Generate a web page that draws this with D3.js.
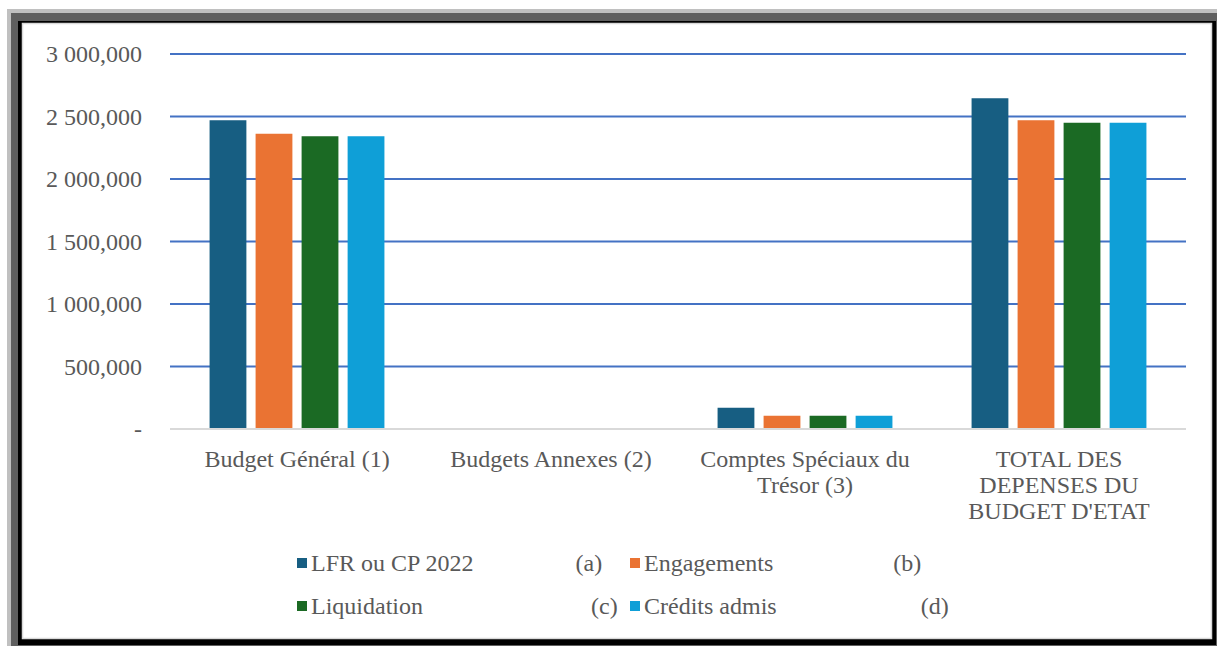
<!DOCTYPE html>
<html>
<head>
<meta charset="utf-8">
<script src="https://cdn.jsdelivr.net/npm/d3@7"></script>
<style>
  html, body { margin: 0; padding: 0; background: #fff; }
  svg { display: block; }
  svg text { font-family: "Times New Roman", "Liberation Serif", Tinos, serif; fill: #595959; }
  .legend text { white-space: pre; }
</style>
</head>
<body>
<div id="chart"></div>
<script>
// Dépenses du budget de l'Etat 2022 — grouped bars, 4 series per category.

const categories = [
  ["Budget Général (1)"],
  ["Budgets Annexes (2)"],
  ["Comptes Spéciaux du", "Trésor (3)"],
  ["TOTAL DES", "DEPENSES DU", "BUDGET D'ETAT"],
];

const seriesNames = ["LFR ou CP 2022", "Engagements", "Liquidation", "Crédits admis"];
// Excel legend labels carried padding spaces before the column letter.
const legendLabels = [
  "LFR ou CP 2022" + " ".repeat(17) + "(a)",
  "Engagements" + " ".repeat(20) + "(b)",
  "Liquidation" + " ".repeat(28) + "(c)",
  "Crédits admis" + " ".repeat(24) + "(d)",
];
const seriesColors = ["#175e82", "#ea7333", "#1b6a24", "#0f9fd7"];

// values per category, in series order
const lfr = [2470000, 6000, 170000, 2646000];
const engagements = [2362000, 4000, 106000, 2470000];
const liquidation = [2342000, 4000, 106000, 2450000];
const creditsAdmis = [2342000, 4000, 106000, 2450000];
const seriesValues = [lfr, engagements, liquidation, creditsAdmis];

const yTicks = [0, 500000, 1000000, 1500000, 2000000, 2500000, 3000000];
const yTickLabels = ["-", "500,000", "1 000,000", "1 500,000", "2 000,000", "2 500,000", "3 000,000"];

const W = 1217, H = 646;
const FONT = 24;
const FAMILY = '"Times New Roman", "Liberation Serif", serif';

const svg = d3.select("#chart").append("svg")
  .attr("width", W).attr("height", H)
  .attr("font-family", FAMILY);

// Frame: light/dark gray bevel, black shadow, white plot panel.
svg.append("rect").attr("x", 7).attr("y", 9).attr("width", W - 7).attr("height", H - 9).attr("fill", "#c0c0c0");
svg.append("rect").attr("x", 11).attr("y", 13).attr("width", W - 11).attr("height", H - 13).attr("fill", "#5f5f5f");
svg.append("rect").attr("x", 18).attr("y", 21).attr("width", 1198).attr("height", 624).attr("fill", "#000");
svg.append("rect").attr("x", 22.5).attr("y", 23.5).attr("width", 1189).attr("height", 615)
  .attr("fill", "#fff").attr("stroke", "#d9d9d9").attr("stroke-width", 1.5);

const plot = { left: 170, right: 1186, top: 54, bottom: 429 };

const x0 = d3.scaleBand()
  .domain(d3.range(categories.length))
  .range([plot.left, plot.right]);

const x1 = d3.scaleBand()
  .domain(d3.range(seriesNames.length))
  .range([0, x0.bandwidth()])
  .paddingInner(0.2)
  .paddingOuter(0.86);

const y = d3.scaleLinear()
  .domain([0, 3000000])
  .range([plot.bottom, plot.top]);

// gridlines
svg.append("g")
  .selectAll("line")
  .data(yTicks.filter(v => v > 0))
  .join("line")
  .attr("x1", plot.left).attr("x2", plot.right)
  .attr("y1", d => y(d)).attr("y2", d => y(d))
  .attr("stroke", "#4472c4").attr("stroke-width", 2);

// y tick labels
svg.append("g")
  .selectAll("text")
  .data(yTicks)
  .join("text")
  .attr("x", 142)
  .attr("y", d => y(d))
  .attr("dy", "0.35em")
  .attr("text-anchor", "end")
  .attr("font-family", FAMILY)
  .style("font-size", FONT + "px")
  .text((d, i) => yTickLabels[i]);

// bars
const groups = svg.append("g")
  .selectAll("g")
  .data(categories.map((c, i) => i))
  .join("g")
  .attr("transform", i => `translate(${x0(i)},0)`);

groups.selectAll("rect")
  .data(ci => seriesValues.map((vals, si) => ({ si, v: vals[ci] })))
  .join("rect")
  .attr("x", d => x1(d.si))
  .attr("width", x1.bandwidth())
  .attr("y", d => y(d.v))
  .attr("height", d => y(0) - y(d.v))
  .attr("fill", d => seriesColors[d.si]);

// baseline
svg.append("line")
  .attr("x1", plot.left).attr("x2", plot.right)
  .attr("y1", y(0)).attr("y2", y(0))
  .attr("stroke", "#d9d9d9").attr("stroke-width", 2);

// category labels
const catLabels = svg.append("g")
  .selectAll("text")
  .data(categories)
  .join("text")
  .attr("text-anchor", "middle")
  .attr("font-family", FAMILY)
  .style("font-size", FONT + "px")
  .attr("transform", (d, i) => `translate(${x0(i) + x0.bandwidth() / 2},467)`);

catLabels.selectAll("tspan")
  .data(d => d)
  .join("tspan")
  .attr("x", 0)
  .attr("y", (d, i) => i * 26)
  .text(d => d);

// legend, 2 x 2
const legend = svg.append("g").attr("class", "legend");
const legendCols = [297, 630];
const legendRows = [563, 606];

const items = legend.selectAll("g")
  .data(seriesNames.map((n, i) => i))
  .join("g")
  .attr("transform", i => `translate(${legendCols[i % 2]},${legendRows[Math.floor(i / 2)]})`);

items.append("rect")
  .attr("x", 0).attr("y", -5)
  .attr("width", 10).attr("height", 10)
  .attr("fill", i => seriesColors[i]);

items.append("text")
  .attr("x", 14)
  .attr("dy", "0.35em")
  .attr("font-family", FAMILY)
  .style("font-size", FONT + "px")
  .text(i => legendLabels[i]);
</script>
</body>
</html>
